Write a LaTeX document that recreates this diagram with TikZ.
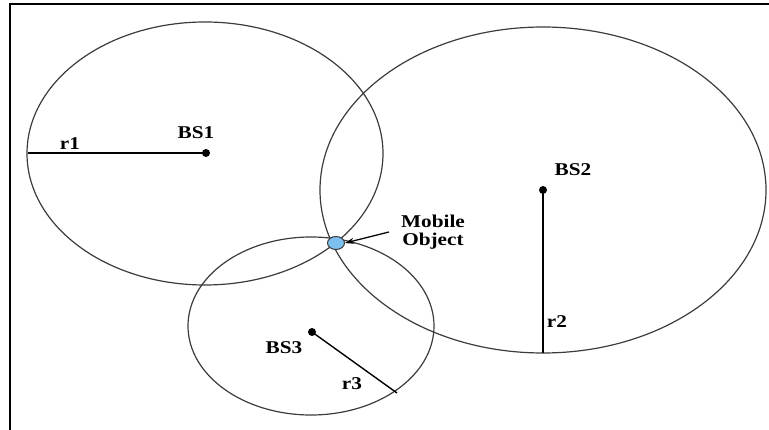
\documentclass[tikz,border=0pt]{standalone}
\usepackage{fontspec}
\setmainfont{Liberation Serif}
\usetikzlibrary{arrows.meta,shapes.geometric}
\definecolor{mobfill}{RGB}{125,192,240}
\definecolor{ringcol}{RGB}{60,60,60}
\tikzset{
  ring/.style={draw=ringcol, line width=1.2pt},
  radiusline/.style={draw=black, line width=1.4pt},
  bsdot/.style={circle, fill=black, inner sep=0pt, minimum size=8pt},
  lbl/.style={font=\fontsize{18}{20}\selectfont\bfseries, inner sep=0pt, xscale=1.18},
}
\begin{document}
\begin{tikzpicture}[x=1pt,y=-1pt]
  \useasboundingbox (0,0) rectangle (769,430);
  % frame (top and left edges)
  \draw[line width=1.5pt] (10,430) -- (10,4) -- (769,4);

  % coverage areas of the base stations
  \draw[ring] (205,153.5) ellipse [x radius=178pt, y radius=131.5pt];
  \draw[ring] (543,190) ellipse [x radius=223pt, y radius=163pt];
  \draw[ring] (311,326) ellipse [x radius=123pt, y radius=89pt];

  % base stations
  \node[bsdot] (bs1) at (206,153) {};
  \node[bsdot] (bs2) at (543,190) {};
  \node[bsdot] (bs3) at (312,332) {};

  % rim points reached by the radii
  \coordinate (e1) at (28,153);
  \coordinate (e2) at (543,353);
  \coordinate (e3) at (397,393);

  \draw[radiusline] (bs1.center) -- (e1);
  \draw[radiusline] (bs2.center) -- (e2);
  \draw[radiusline] (bs3.center) -- (e3);

  % labels
  \node[lbl] (l1) at (196,133) {BS1};
  \node[lbl] (l2) at (573,170) {BS2};
  \node[lbl] (l3) at (284,348) {BS3};
  \node[lbl] (r1) at (70,144) {r1};
  \node[lbl] (r2) at (557,322) {r2};
  \node[lbl] (r3) at (352,384) {r3};

  % mobile object
  \node[ellipse, draw=ringcol, line width=1pt, fill=mobfill, inner sep=0pt,
        minimum width=17pt, minimum height=13pt] (mo) at (336,243) {};
  \node[lbl, align=center] (mol) at (433,232) {Mobile\\[-2pt]Object};
  \coordinate (atail) at (389,232);
  \draw[line width=1.3pt, -{Stealth[length=9pt,width=6pt]}] (atail) -- (mo.east);
\end{tikzpicture}
\end{document}
